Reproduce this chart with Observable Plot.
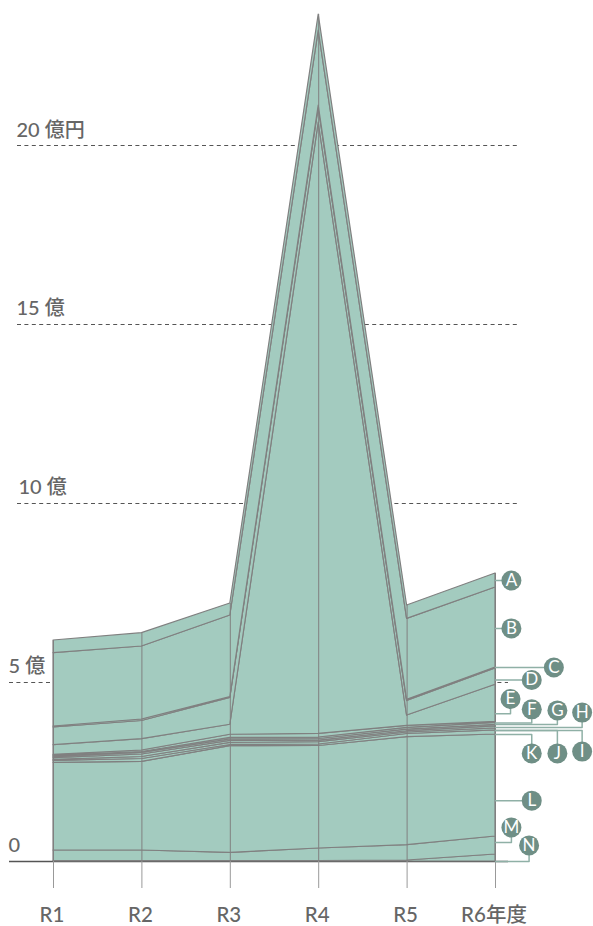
<!DOCTYPE html>
<html><head><meta charset="utf-8">
<script src="https://cdn.jsdelivr.net/npm/d3@7"></script>
<script src="https://cdn.jsdelivr.net/npm/@observablehq/plot@0.6"></script>
<style>html,body{margin:0;padding:0;background:#fff}svg{display:block}</style>
</head><body><div id="chart"></div>
<script>
const years = ["R1","R2","R3","R4","R5","R6年度"];
// 億円
const A = [0.355,0.372,0.335,0.447,0.372,0.391];
const B = [2.047,2.039,2.282,2.095,2.263,2.235];
const C = [0.028,0.042,0.022,0.056,0.034,0.028];
const D = [0.494,0.508,0.749,0.419,0.405,0.455];
const E = [0.268,0.316,0.279,17.075,0.288,1.039];
const F = [0.028,0.042,0.089,0.103,0.056,0.028];
const G = [0.028,0.028,0.042,0.042,0.047,0.056];
const H = [0.039,0.042,0.042,0.042,0.047,0.042];
const I = [0.045,0.070,0.056,0.047,0.036,0.056];
const J = [0.028,0.056,0.056,0.064,0.042,0.056];
const K = [0.056,0.078,0.034,0.042,0.089,0.112];
const L = [2.450,2.478,2.978,2.863,3.017,2.849];
const M = [0.293,0.293,0.229,0.349,0.427,0.503];
const N = [0.014,0.014,0.014,0.014,0.028,0.196];
const layers = {N,M,L,K,J,I,H,G,F,E,D,C,B,A};
const rows = Object.entries(layers).flatMap(([k,vals]) => vals.map((v,i)=>({k,i,v})));
const totals = years.map((_,i)=>d3.sum(Object.values(layers),a=>a[i]));

const calloutLetters = ["A","B","C","D","E","F","G","H","I","J","K","L","M","N"];
const calloutAnchor = [7.85,6.51,5.42,5.07,4.13,3.87,3.83,3.74,3.66,3.66,3.55,1.70,0.53,0];
const calloutX = [5.18,5.18,5.66,5.41,5.17,5.41,5.70,5.98,5.98,5.70,5.41,5.41,5.18,5.38];
const calloutY = [7.85,6.51,5.42,5.07,4.54,4.25,4.22,4.16,3.07,3.02,3.02,1.70,0.95,0.45];
const callouts = calloutLetters.map((k,i)=>({k,a:calloutAnchor[i],x:calloutX[i],y:calloutY[i]}));
const leaders = callouts.flatMap(d=>[{k:d.k,x:5,y:d.a},{k:d.k,x:d.x,y:d.a},{k:d.k,x:d.x,y:d.y}]);

const grey="#808080", textC="#666", face="Lato,'Noto Sans CJK JP',sans-serif";
const plot = Plot.plot({
  width:593,height:926,marginTop:0,marginRight:0,marginLeft:0,marginBottom:65,
  style:{fontFamily:face,background:"#fff"},
  x:{type:"linear",domain:[0,5],range:[53,495]},
  y:{type:"linear",domain:[0,20],range:[861,145],axis:null},
  marks:[
    Plot.ruleY([20,15,10],{stroke:"#555",strokeWidth:1,strokeDasharray:"4 3.4",insetLeft:17,insetRight:76}),
    Plot.ruleY([5],{stroke:"#555",strokeWidth:1,strokeDasharray:"4 3.4",insetLeft:9,insetRight:85}),
    Plot.ruleY([0],{stroke:"#555",strokeWidth:1.5,insetLeft:9,insetRight:85}),
    Plot.areaY(rows,{x:"i",y:"v",z:"k",fill:"#a3cbbf",stroke:grey,strokeWidth:1.2,strokeMiterlimit:20,order:null}),
    Plot.ruleX(d3.range(6),{x:d=>d,y1:0,y2:d=>totals[d],stroke:grey,strokeWidth:1}),
    Plot.axisX({ticks:d3.range(6),text:null,tickSize:27,stroke:"#999",label:null,anchor:"bottom"}),
    Plot.axisX({ticks:d3.range(6),tickFormat:i=>years[i],tickSize:0,tickPadding:46,dx:-1.5,fontSize:20.5,fontWeight:500,fill:textC,label:null,anchor:"bottom"}),
    Plot.text([20],{y:d=>d,text:["20 億円"],frameAnchor:"left",dx:16,dy:-15,fontSize:20,fontWeight:500,fill:textC}),
    Plot.text([15],{y:d=>d,text:["15 億"],frameAnchor:"left",dx:16,dy:-16,fontSize:20,fontWeight:500,fill:textC}),
    Plot.text([10],{y:d=>d,text:["10 億"],frameAnchor:"left",dx:18,dy:-16,fontSize:20,fontWeight:500,fill:textC}),
    Plot.text([5],{y:d=>d,text:["5 億"],frameAnchor:"left",dx:8,dy:-16,fontSize:20,fontWeight:500,fill:textC}),
    Plot.text([0],{y:d=>d,text:["0"],frameAnchor:"left",dx:8,dy:-16,fontSize:20,fontWeight:500,fill:textC}),
    Plot.line(leaders,{x:"x",y:"y",z:"k",stroke:"#8fb0a6",strokeWidth:1.5,curve:"linear"}),
    Plot.dot(callouts,{x:"x",y:"y",r:10,fill:"#6f8f86"}),
    Plot.text(callouts,{x:"x",y:"y",text:"k",fill:"#fff",fontSize:17})
  ]
});
document.getElementById("chart").append(plot);
</script></body></html>
